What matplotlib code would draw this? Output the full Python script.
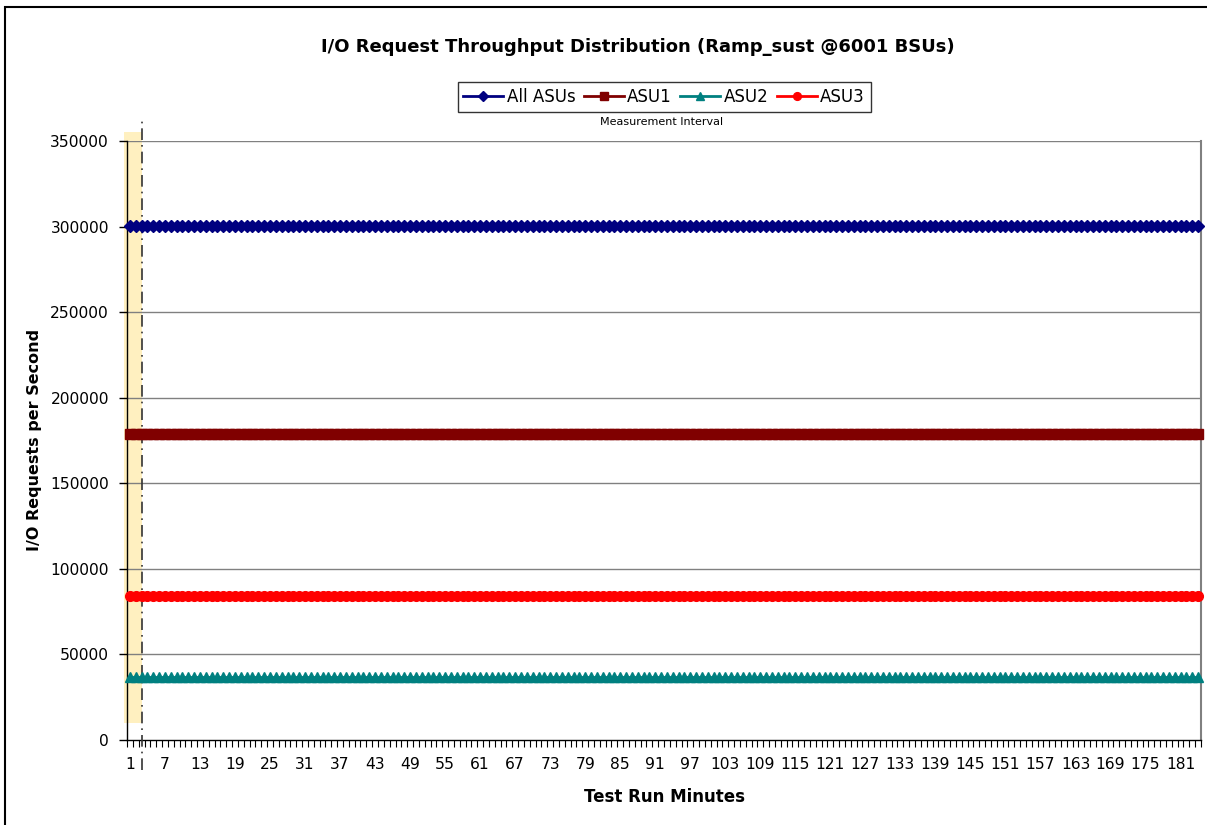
import matplotlib
matplotlib.use("Agg")
import matplotlib.pyplot as plt
from matplotlib.patches import Rectangle
import numpy as np

plt.rcParams['font.family'] = ['DejaVu Sans']

# ---- data ----
n_minutes = 184
minutes = list(range(1, n_minutes + 1))
all_asus = [300050] * n_minutes
asu1 = [178830] * n_minutes
asu2 = [36900] * n_minutes
asu3 = [84320] * n_minutes
series_names = ["All ASUs", "ASU1", "ASU2", "ASU3"]
y_ticks = [0, 50000, 100000, 150000, 200000, 250000, 300000, 350000]
x_label_ticks = list(range(1, 182, 6))
title = "I/O Request Throughput Distribution (Ramp_sust @6001 BSUs)"
mi_start, mi_end = 0.0, 3.05
band_low, band_high = 10000, 355000

W, H = 1207, 825
fig = plt.figure(figsize=(W / 100, H / 100), dpi=100)
fig.patch.set_facecolor('white')

# outer frame (extends beyond right/bottom edges)
fig.add_artist(Rectangle((5 / W, -0.1), 1.2, 1 - 7 / H + 0.1, transform=fig.transFigure,
                         fill=False, edgecolor='black', linewidth=1.5))

left, right, top, bottom = 127, 1201, 141, 740
ax = fig.add_axes([left / W, 1 - bottom / H, (right - left) / W, (bottom - top) / H])

ax.set_xlim(0.5, n_minutes + 0.5)
ax.set_ylim(0, 350000)

# yellow ramp band & measurement line
ax.add_patch(Rectangle((mi_start, band_low), mi_end - mi_start, band_high - band_low,
                       facecolor='#FFF0C0', edgecolor='none', clip_on=False, zorder=0.5))
ax.plot([mi_end, mi_end], [-17500, 362000], color='#333333', lw=1.2,
        linestyle=(0, (7, 3, 1, 3)), clip_on=False, zorder=3)

# gridlines
for yv in y_ticks[1:]:
    ax.axhline(yv, color='#808080', lw=1.0, zorder=1)

styles = [
    dict(color='#000080', marker='D', ms=6),
    dict(color='#800000', marker='s', ms=6.5),
    dict(color='#008080', marker='^', ms=6.5),
    dict(color='#FF0000', marker='o', ms=7),
]
lines = []
for name, vals, st in zip(series_names, [all_asus, asu1, asu2, asu3], styles):
    ln, = ax.plot(minutes, vals, color=st['color'], lw=2, marker=st['marker'], ms=st['ms'],
                  markeredgecolor=st['color'], markerfacecolor=st['color'], label=name,
                  clip_on=False, zorder=4)
    lines.append(ln)

# axes styling
ax.spines['top'].set_visible(False)
ax.spines['right'].set_color('#808080')
ax.spines['right'].set_linewidth(1.5)
ax.spines['left'].set_color('black')
ax.spines['bottom'].set_color('black')
ax.spines['left'].set_linewidth(1.0)
ax.spines['bottom'].set_linewidth(1.0)

ax.set_yticks(y_ticks)
ax.set_yticklabels([str(v) for v in y_ticks], fontsize=11.2)
ax.tick_params(axis='y', direction='out', length=6, width=1, pad=7)

# category boundary ticks (major, unlabeled) and centered labels (minor)
ax.set_xticks(np.arange(0.5, n_minutes + 1, 1.0))
ax.set_xticklabels([])
ax.tick_params(axis='x', which='major', direction='out', length=5, width=0.8)
ax.set_xticks(x_label_ticks, minor=True)
ax.set_xticklabels([str(v) for v in x_label_ticks], minor=True, fontsize=11.2)
ax.tick_params(axis='x', which='minor', length=0, pad=12)

fig.text(664 / W, 1 - 797 / H, "Test Run Minutes", ha='center', va='center',
         fontsize=12, fontweight='bold')
fig.text(35 / W, 1 - 440 / H, "I/O Requests per Second", ha='center', va='center',
         fontsize=11.5, fontweight='bold', rotation=90)

fig.text(638 / W, 1 - 47 / H, title, ha='center', va='center', fontsize=13, fontweight='bold')
fig.text(662 / W, 1 - 122 / H, "Measurement Interval", ha='center', va='center', fontsize=8)

leg = fig.legend(loc='center', bbox_to_anchor=(664 / W, 1 - 97 / H), ncol=4, fontsize=12,
                 frameon=True, fancybox=False, edgecolor='black', borderpad=0.35,
                 handlelength=2.4, handletextpad=0.2, columnspacing=0.5, borderaxespad=0,
                 markerscale=0.8)
leg.get_frame().set_linewidth(1.0)

fig.savefig("out.png", dpi=100, facecolor='white')
